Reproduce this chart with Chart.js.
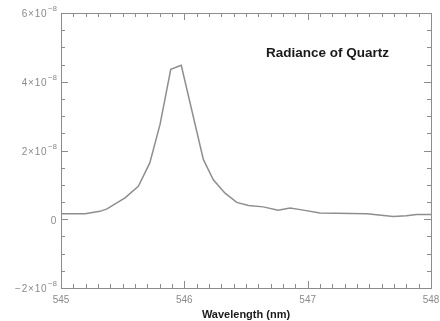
<!DOCTYPE html>
<html>
<head>
<meta charset="utf-8">
<script src="https://cdn.jsdelivr.net/npm/chart.js@4/dist/chart.umd.min.js"></script>
<style>
html,body{margin:0;padding:0;background:#fff;}
#wrap{width:440px;height:321px;position:relative;}
</style>
</head>
<body>
<div id="wrap"><canvas id="c" width="440" height="321"></canvas></div>
<script>
const wavelength = [545.000, 545.195, 545.316, 545.373, 545.519, 545.627, 545.720, 545.803, 545.890, 545.975, 546.154, 546.235, 546.330, 546.425, 546.520, 546.640, 546.760, 546.857, 546.940, 547.100, 547.480, 547.694, 547.800, 547.884, 548.000];
const radiance = [0.16e-8, 0.16e-8, 0.23e-8, 0.30e-8, 0.62e-8, 0.96e-8, 1.64e-8, 2.76e-8, 4.36e-8, 4.48e-8, 1.74e-8, 1.15e-8, 0.76e-8, 0.49e-8, 0.40e-8, 0.36e-8, 0.26e-8, 0.33e-8, 0.28e-8, 0.18e-8, 0.16e-8, 0.08e-8, 0.10e-8, 0.14e-8, 0.14e-8];
const xTicks = [545, 546, 547, 548];
const yTicks = [-2e-8, 0, 2e-8, 4e-8, 6e-8];
const chartTitle = "Radiance of Quartz";
const xAxisTitle = "Wavelength (nm)";

const AXIS_COLOR = "#8c8c8c";
const TEXT_COLOR = "#8a8a8a";
const FONT = "'Liberation Sans', Arial, sans-serif";

function yParts(v){
  const n = Math.round(v * 1e8);
  if (n === 0) return ["0", ""];
  return [(n < 0 ? "\u2212" + (-n) : String(n)) + "\u00d710", "\u22128"];
}

const boxTicks = {
  id: "boxTicks",
  afterDraw(chart){
    const ctx = chart.ctx, a = chart.chartArea;
    const xs = chart.scales.x, ys = chart.scales.y;
    ctx.save();
    ctx.strokeStyle = AXIS_COLOR;
    ctx.lineWidth = 1;
    ctx.strokeRect(Math.round(a.left)+0.5, Math.round(a.top)+0.5, Math.round(a.right-a.left), Math.round(a.bottom-a.top));
    ctx.beginPath();
    for (let i = 0; i <= 30; i++){
      const v = xTicks[0] + i * 0.1;
      const px = Math.round(xs.getPixelForValue(v)) + 0.5;
      const len = (i % 10 === 0) ? 7 : 4;
      ctx.moveTo(px, a.bottom); ctx.lineTo(px, a.bottom - len);
      ctx.moveTo(px, a.top); ctx.lineTo(px, a.top + len);
    }
    for (let i = 0; i <= 16; i++){
      const v = yTicks[0] + i * 0.5e-8;
      const py = Math.round(ys.getPixelForValue(v)) + 0.5;
      const len = (i % 4 === 0) ? 7 : 4;
      ctx.moveTo(a.left, py); ctx.lineTo(a.left + len, py);
      ctx.moveTo(a.right, py); ctx.lineTo(a.right - len, py);
    }
    ctx.stroke();

    ctx.fillStyle = TEXT_COLOR;
    ctx.textBaseline = "middle";
    yTicks.forEach(v => {
      const py = ys.getPixelForValue(v);
      const [base, sup] = yParts(v);
      let x = a.left - 4;
      ctx.textAlign = "right";
      if (sup){
        ctx.font = "8px " + FONT;
        ctx.fillText(sup, x, py - 4);
        x -= ctx.measureText(sup).width + 0.5;
      }
      ctx.font = "10px " + FONT;
      if ('letterSpacing' in ctx) ctx.letterSpacing = "0.8px";
      ctx.fillText(base, x, py + 1.5);
      if ('letterSpacing' in ctx) ctx.letterSpacing = "0px";
    });

    ctx.fillStyle = "#1a1a1a";
    ctx.font = "bold 13.5px " + FONT;
    ctx.textAlign = "left";
    ctx.textBaseline = "middle";
    ctx.fillText(chartTitle, a.left + 205, a.top + 40);
    ctx.restore();
  }
};

new Chart(document.getElementById("c"), {
  type: "line",
  data: {
    datasets: [{
      data: wavelength.map((w, i) => ({x: w, y: radiance[i]})),
      borderColor: "#8e8e8e",
      borderWidth: 1.5,
      pointRadius: 0,
      tension: 0,
      fill: false
    }]
  },
  options: {
    responsive: false,
    animation: false,
    devicePixelRatio: 1,
    layout: {padding: {top: 13, right: 9, left: 0, bottom: 0}},
    plugins: {legend: {display: false}, tooltip: {enabled: false}},
    scales: {
      x: {
        type: "linear",
        min: 545, max: 548,
        afterBuildTicks: s => { s.ticks = xTicks.map(v => ({value: v})); },
        afterFit: s => { s.height = 33; s.paddingLeft = 0; s.paddingRight = 0; },
        grid: {display: false, drawTicks: false},
        border: {display: false},
        ticks: {
          padding: 6,
          color: TEXT_COLOR,
          maxRotation: 0,
          font: {family: FONT, size: 10},
          callback: v => String(v)
        },
        title: {
          display: true,
          text: xAxisTitle,
          color: "#1a1a1a",
          padding: {top: 0, bottom: -1},
          font: {family: FONT, size: 11, weight: "bold"}
        }
      },
      y: {
        type: "linear",
        min: -2e-8, max: 6e-8,
        afterBuildTicks: s => { s.ticks = yTicks.map(v => ({value: v})); },
        afterFit: s => { s.width = 61; s.paddingTop = 0; s.paddingBottom = 0; },
        grid: {display: false, drawTicks: false},
        border: {display: false},
        ticks: {
          padding: 4,
          color: "rgba(0,0,0,0)",
          font: {family: FONT, size: 10},
          callback: v => ""
        }
      }
    }
  },
  plugins: [boxTicks]
});
</script>
</body>
</html>
